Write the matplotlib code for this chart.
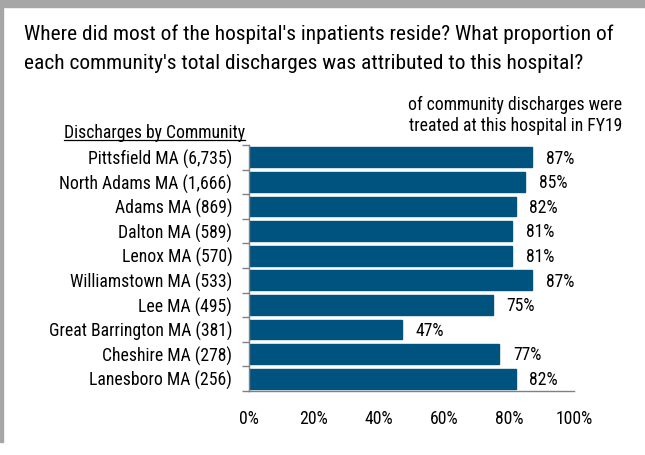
import matplotlib
matplotlib.use("Agg")
import matplotlib.pyplot as plt
from matplotlib import font_manager
from matplotlib.lines import Line2D
from matplotlib.patches import Rectangle

names = {f.name for f in font_manager.fontManager.ttflist}
fam = [f for f in ['Roboto Condensed', 'Archivo Narrow', 'Liberation Sans', 'DejaVu Sans'] if f in names]
plt.rcParams['font.family'] = fam

communities = ["Pittsfield MA (6,735)", "North Adams MA (1,666)", "Adams MA (869)",
               "Dalton MA (589)", "Lenox MA (570)", "Williamstown MA (533)",
               "Lee MA (495)", "Great Barrington MA (381)", "Cheshire MA (278)",
               "Lanesboro MA (256)"]
share = [87, 85, 82, 81, 81, 87, 75, 47, 77, 82]
xticks = [0, 20, 40, 60, 80, 100]

W, H = 645, 455
fig = plt.figure(figsize=(W / 100, H / 100), dpi=100)
fig.patch.set_facecolor("white")

# grey frame at top and left
fig.patches.append(Rectangle((0, 1 - 7 / H), 1, 7 / H, transform=fig.transFigure,
                             color="#a6a6a6", zorder=0))
fig.patches.append(Rectangle((0, 13 / H), 3 / W, 1 - 13 / H, transform=fig.transFigure,
                             color="#a6a6a6", zorder=0))

ax = fig.add_axes([249 / W, 64 / H, 325 / W, 246 / H])
y = list(range(len(communities)))
ax.barh(y, share, height=0.8, color="#00527f", edgecolor="#00527f")
ax.set_ylim(len(communities) - 0.5, -0.5)
ax.set_xlim(0, 100)

fs = 12.7
ax.set_yticks(y)
ax.set_yticklabels(communities, fontsize=fs)
ax.tick_params(axis="y", which="major", length=0, pad=12)
ax.set_yticks([i - 0.5 for i in range(len(communities) + 1)], minor=True)
ax.tick_params(axis="y", which="minor", length=5, color="#808080", width=1)

ax.set_xticks(xticks)
ax.set_xticklabels([f"{v}%" for v in xticks], fontsize=fs)
ax.tick_params(axis="x", length=0, pad=14)

for s in ["top", "right"]:
    ax.spines[s].set_visible(False)
for s in ["left", "bottom"]:
    ax.spines[s].set_color("#808080")
    ax.spines[s].set_linewidth(1)

for i, v in enumerate(share):
    ax.annotate(f"{v}%", (v, i), xytext=(10, -1), textcoords="offset points",
                ha="left", va="center", fontsize=fs)

fig.text(24 / W, 1 - 24 / H,
         "Where did most of the hospital's inpatients reside? What proportion of\n"
         "each community's total discharges was attributed to this hospital?",
         ha="left", va="top", fontsize=15.4, linespacing=1.7)

fig.text(622 / W, 1 - 96 / H,
         "of community discharges were\ntreated at this hospital in FY19",
         ha="right", va="top", fontsize=fs, linespacing=1.2)

hdr = fig.text(245 / W, 1 - 138 / H, "Discharges by Community", ha="right",
               va="baseline", fontsize=fs)
fig.canvas.draw()
bb = hdr.get_window_extent().transformed(fig.transFigure.inverted())
uy = 1 - 140 / H
fig.add_artist(Line2D([bb.x0, bb.x1], [uy, uy], transform=fig.transFigure,
                      color="black", linewidth=0.9))

fig.savefig("out.png", dpi=100)
